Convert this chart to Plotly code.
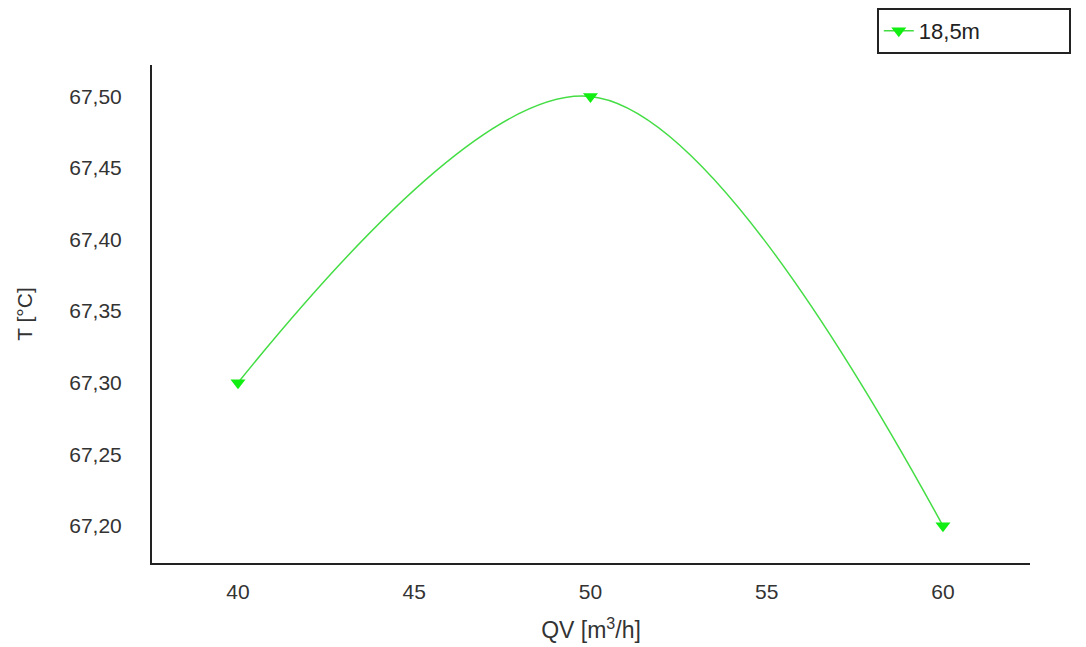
import plotly.graph_objects as go

qv = [40, 50, 60]
temp = [67.30, 67.50, 67.20]
series_name = "18,5m"
x_ticks = [40, 45, 50, 55, 60]
y_ticks = [67.20, 67.25, 67.30, 67.35, 67.40, 67.45, 67.50]

fig = go.Figure()
fig.add_trace(go.Scatter(
    x=qv, y=temp, name=series_name, mode="lines+markers",
    line=dict(shape="spline", smoothing=1.0, color="#44dd44", width=1.5),
    marker=dict(symbol="triangle-down", size=13, color="#11ee11"),
))

font = "Liberation Sans, Arial, sans-serif"
fig.update_layout(
    width=1086, height=647,
    margin=dict(l=144, r=64, t=57, b=92, autoexpand=False),
    paper_bgcolor="white", plot_bgcolor="white",
    separators=", ",
    font=dict(family=font, color="#333333", size=21),
    showlegend=True,
    legend=dict(xref="container", yref="container",
                x=0.800, xanchor="left", y=1.0, yanchor="top",
                orientation="h", entrywidth=145, entrywidthmode="pixels",
                bordercolor="#222222", borderwidth=2, bgcolor="white",
                font=dict(size=22, color="#222222")),
    xaxis=dict(range=[37.56, 62.47], tickvals=x_ticks, showgrid=False, zeroline=False,
               automargin=False,
               showline=True, linecolor="#222222", linewidth=2,
               ticks="outside", ticklen=9, tickcolor="rgba(0,0,0,0)",
               title=dict(text="QV [m<sup>3</sup>/h]", font=dict(size=23), standoff=20)),
    yaxis=dict(range=[67.174, 67.522], tickvals=y_ticks, tickformat=".2f",
               showgrid=False, zeroline=False, automargin=False,
               showline=True, linecolor="#222222", linewidth=2,
               ticks="outside", ticklen=24, tickcolor="rgba(0,0,0,0)",
               title=dict(text="T [°C]", font=dict(size=21), standoff=31)),
)
fig.write_html("out.html")
